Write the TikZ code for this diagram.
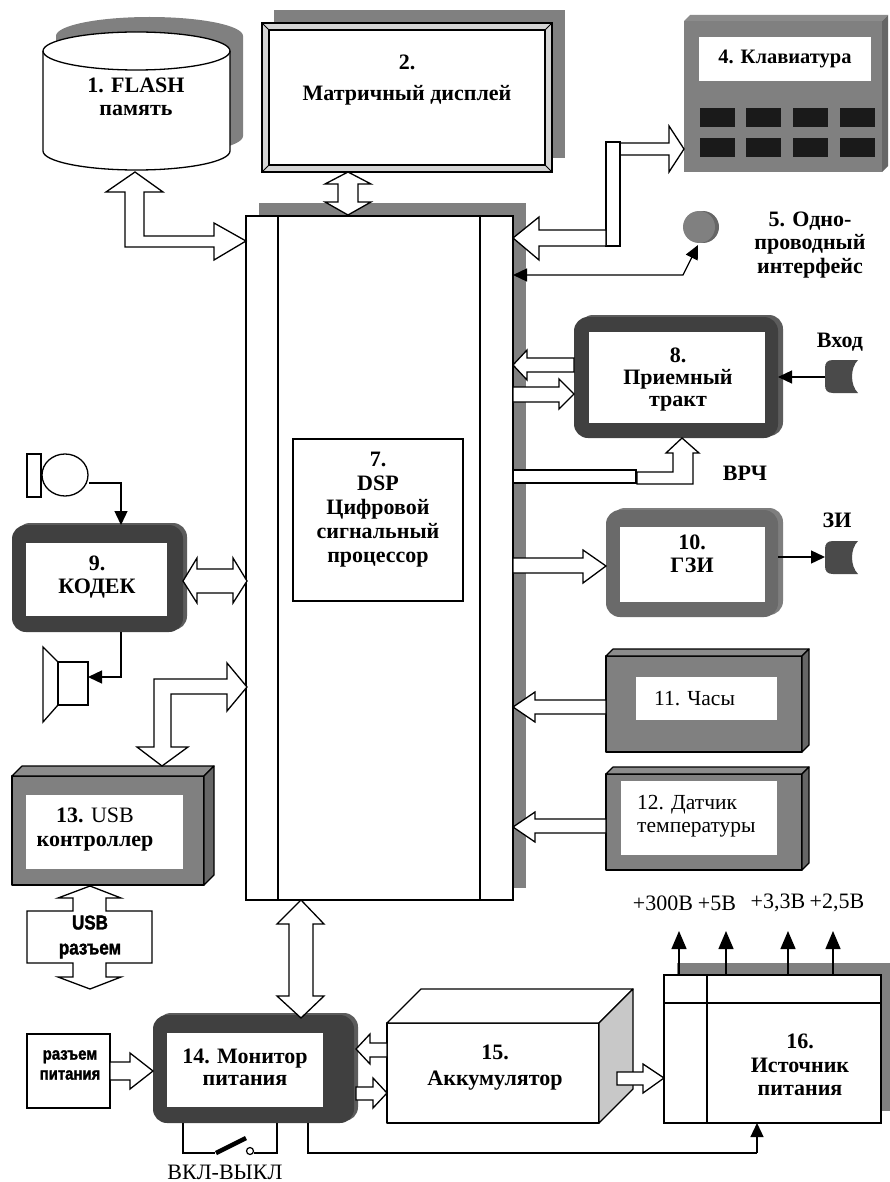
\documentclass[tikz,border=0pt]{standalone}
\usepackage{fontspec}
\setmainfont{Liberation Serif}
\newfontfamily\heavy{Liberation Sans}[FakeBold=1.6,FakeStretch=0.85]
\usetikzlibrary{arrows.meta}
\definecolor{shd}{HTML}{808080}
\definecolor{darkbox}{HTML}{404040}
\definecolor{darkedge}{HTML}{5C5C5C}
\definecolor{midbox}{HTML}{6A6A6A}
\definecolor{midedge}{HTML}{7E7E7E}
\definecolor{bevel}{HTML}{D4D4D4}
\definecolor{sideface}{HTML}{C8C8C8}
\definecolor{darkside}{HTML}{666666}
\definecolor{topface}{HTML}{8C8C8C}
\definecolor{keyblk}{HTML}{1A1A1A}
\definecolor{jackc}{HTML}{4A4A4A}
\newcommand\tdbox[5]{%
  \filldraw[fill=shd,draw=black,line width=1.2pt,line join=round] (#1,#2) rectangle (#3,#4);
  \filldraw[fill=topface,draw=black,line width=1.2pt,line join=round] (#1,#2) -- (#1+#5,#2-#5) -- (#3+#5,#2-#5) -- (#3,#2) -- cycle;
  \filldraw[fill=darkside,draw=black,line width=1.2pt,line join=round] (#3,#2) -- (#3+#5,#2-#5) -- (#3+#5,#4-#5) -- (#3,#4) -- cycle;
}
\begin{document}
\begin{tikzpicture}[x=1pt,y=-1pt,
  ln/.style={line width=1.3pt},
  barrow/.style={draw=black,fill=white,line width=1.3pt,line join=miter},
  lab/.style={font=\fontsize{22}{23.5}\selectfont\bfseries,align=center,inner sep=0pt},
  labn/.style={font=\fontsize{21.5}{23.5}\selectfont,align=center,inner sep=0pt},
  labh/.style={font=\heavy\fontsize{20}{25}\selectfont\bfseries,align=center,inner sep=0pt},
  arr/.style={line width=1.3pt,-{Triangle[length=14pt,width=13pt]}},
  darr/.style={line width=1.3pt,{Triangle[length=14pt,width=13pt]}-{Triangle[length=14pt,width=13pt]}}]
\useasboundingbox (0,0) rectangle (890,1182);
\fill[white] (0,0) rectangle (890,1182);

% ---------- 1. FLASH cylinder ----------
\fill[shd] (56,36) -- (56,136) arc[start angle=180,end angle=360,x radius=93.5pt,y radius=19pt] -- (243,36) arc[start angle=0,end angle=180,x radius=93.5pt,y radius=19pt] -- cycle;
\filldraw[fill=white,ln] (43,51) -- (43,151) arc[start angle=180,end angle=360,x radius=93.5pt,y radius=19pt] -- (230,51) arc[start angle=0,end angle=180,x radius=93.5pt,y radius=19pt] -- cycle;
\draw[ln] (43,51) arc[start angle=180,end angle=360,x radius=93.5pt,y radius=19pt];
\node[lab] (t1) at (136,97) {1. FLASH\\память};

% ---------- 2. Display ----------
\fill[shd] (274,10) rectangle (565,158);
\filldraw[fill=bevel,ln] (262,23) rectangle (552,172);
\filldraw[fill=white,ln] (269,30) rectangle (545,165);
\draw[line width=1pt] (262,23) -- (269,30) (552,23) -- (545,30) (262,172) -- (269,165) (552,172) -- (545,165);
\node[lab] (t2) at (407,80) {2.\\[8pt]Матричный дисплей};

% ---------- 7. Bus / DSP ----------
\fill[shd] (259,203) rectangle (526,888);
\filldraw[fill=white,ln] (246,216) rectangle (513,900);
\draw[ln] (278,216) -- (278,900) (480,216) -- (480,900);
\draw[ln] (293,439) rectangle (463,601);
\node[lab,font=\fontsize{22}{24}\selectfont\bfseries] (t7) at (378,510) {7.\\DSP\\Цифровой\\сигнальный\\процессор};

% ---------- 4. Keyboard ----------
\fill[shd] (684,21) rectangle (882,172);
\fill[topface] (684,21) -- (690,15) -- (888,15) -- (882,21) -- cycle;
\fill[darkside] (882,21) -- (888,15) -- (888,166) -- (882,172) -- cycle;
\fill[white] (699,37) rectangle (871,81);
\node[lab,font=\fontsize{20.5}{23.5}\selectfont\bfseries] (t4) at (785,59) {4. Клавиатура};
\foreach \kx in {700,746,793,840}{
  \fill[keyblk] (\kx,108) rectangle +(35,19);
  \fill[keyblk] (\kx,138) rectangle +(35,19);
}

% ---------- 5. One-wire ----------
\fill[darkside] (703,227) circle[radius=16pt];
\fill[shd] (699,227) circle[radius=16pt];
\node[lab] (t5) at (810,245) {5. Одно-\\проводный\\интерфейс};

% ---------- 8. Receiver ----------
\fill[darkedge,rounded corners=14pt] (579,315) rectangle (783,436);
\fill[darkbox,rounded corners=14pt] (574,317) rectangle (778,438);
\fill[white] (589,332) rectangle (765,423);
\node[lab,font=\fontsize{22}{22}\selectfont\bfseries] (t8) at (678,380) {8.\\Приемный\\тракт};

% ---------- 10. GZI ----------
\fill[midedge,rounded corners=14pt] (611,508) rectangle (783,615);
\fill[midbox,rounded corners=14pt] (606,510) rectangle (778,617);
\fill[white] (620,527) rectangle (765,602);
\node[lab] (t10) at (692,554) {10.\\ГЗИ};

% ---------- jacks ----------
\foreach \jy in {360,541}{
  \fill[jackc] (858,\jy) -- (833,\jy) .. controls (827,\jy) and (825,\jy+3) .. (825,\jy+8) -- (825,\jy+25) .. controls (825,\jy+30) and (827,\jy+33) .. (833,\jy+33) -- (858,\jy+33) .. controls (850,\jy+25) and (850,\jy+8) .. (858,\jy) -- cycle;
}
\node[lab] (tin) at (840,342) {Вход};
\node[lab] (tzi) at (837,520) {ЗИ};
\node[lab] (tvrch) at (745,473) {ВРЧ};

% ---------- 11, 12 ----------
\tdbox{606}{656}{802}{752}{7}
\fill[white] (636,677) rectangle (777,720);
\node[labn,anchor=west] (t11) at (654,699) {11. Часы};
\tdbox{606}{774}{802}{870}{7}
\fill[white] (621,781) rectangle (777,855);
\node[labn,anchor=west,align=left] (t12) at (637,816) {12. Датчик\\температуры};

% ---------- 9. Codec ----------
\fill[darkedge,rounded corners=14pt] (16,523) rectangle (187,630);
\fill[darkbox,rounded corners=14pt] (12,525) rectangle (183,632);
\fill[white] (26,543) rectangle (167,616);
\node[lab] (t9) at (97,577) {9.\\КОДЕК};
% microphone
\draw[ln] (27,454) rectangle (41,497);
\draw[ln] (65,475) ellipse[x radius=23pt,y radius=21pt];
\coordinate (mic) at (89,483);
\coordinate (cdtop) at (121,525);
\draw[arr] (mic) -| (cdtop);
% speaker
\draw[ln] (58,662) rectangle (88,705);
\draw[ln,line join=miter] (58,662) -- (43,647) -- (43,722) -- (58,705);
\coordinate (cdbot) at (121,632);
\coordinate (spk) at (88,677);
\draw[arr] (cdbot) |- (spk);

% ---------- 13. USB controller ----------
\tdbox{12}{776}{204}{885}{10}
\fill[white] (26,795) rectangle (183,869);
\node[labn,font=\fontsize{22}{24}\selectfont] (t13) at (95,830) {\textbf{13.} USB\\\textbf{контроллер}};

% ---------- USB connector ----------
\filldraw[barrow] (90,886) -- (121,898) -- (106,898) -- (106,911) -- (152,911) -- (152,963) -- (106,963) -- (106,977) -- (121,977) -- (90,989) -- (58,977) -- (73,977) -- (73,963) -- (27,963) -- (27,911) -- (73,911) -- (73,898) -- (58,898) -- cycle;
\node[labh] (tusb) at (90,937) {USB\\разъем};

% ---------- 14. Monitor ----------
\fill[darkedge,rounded corners=14pt] (157,1013) rectangle (358,1121);
\fill[darkbox,rounded corners=14pt] (153,1015) rectangle (354,1123);
\fill[white] (167,1033) rectangle (323,1107);
\node[lab,font=\fontsize{22}{22}\selectfont\bfseries] (t14) at (245,1067) {14. Монитор\\питания};

% power connector
\draw[ln] (27,1034) rectangle (110,1108);
\node[labh,font=\heavy\fontsize{17.5}{20}\selectfont\bfseries] (tpw) at (70,1065) {разъем\\питания};

% ---------- 15. Accumulator ----------
\filldraw[fill=white,ln,line join=round] (387,1023) rectangle (599,1123);
\filldraw[fill=white,ln,line join=round] (387,1023) -- (421,989) -- (633,989) -- (599,1023) -- cycle;
\filldraw[fill=sideface,ln,line join=round] (599,1023) -- (633,989) -- (633,1089) -- (599,1123) -- cycle;
\node[lab,font=\fontsize{22}{26}\selectfont\bfseries] (t15) at (495,1068) {15.\\Аккумулятор};

% ---------- 16. Power source ----------
\fill[shd] (677,963) rectangle (890,1111);
\filldraw[fill=white,ln] (664,975) rectangle (881,1123);
\draw[ln] (707,975) -- (707,1123) (664,1003) -- (881,1003);
\node[lab] (t16) at (800,1065) {16.\\Источник\\питания};
\foreach \ox in {679,726,788,833}{
  \draw[arr,-{Triangle[length=18pt,width=15pt]}] (\ox,975) -- (\ox,931);
}
\node[labn,font=\fontsize{22}{24}\selectfont] (v1) at (663,903) {+300В};
\node[labn,font=\fontsize{22}{24}\selectfont] (v2) at (717,903) {+5В};
\node[labn,font=\fontsize{22}{24}\selectfont] (v3) at (778,903) {+3,3В};
\node[labn,font=\fontsize{22}{24}\selectfont] (v4) at (837,903) {+2,5В};

% ---------- block arrows ----------
% flash <-> bus
\filldraw[barrow] (135,172) -- (163,192) -- (144,192) -- (144,236) -- (214,236) -- (214,223) -- (246,241) -- (214,260) -- (214,247) -- (125,247) -- (125,192) -- (106,192) -- cycle;
% display <-> bus
\filldraw[barrow] (348,172) -- (371,184) -- (358,184) -- (358,202) -- (371,202) -- (348,215) -- (325,202) -- (338,202) -- (338,184) -- (325,184) -- cycle;
% keyboard <-> bus
\filldraw[barrow] (620,143) -- (669,143) -- (669,126) -- (684,149) -- (669,172) -- (669,155) -- (620,155) -- cycle;
\filldraw[barrow] (606,142) rectangle (620,246);
\filldraw[barrow] (606,230) -- (539,230) -- (539,217) -- (513,238) -- (539,260) -- (539,246) -- (606,246) -- cycle;
% one-wire
\coordinate (ow1) at (698,245);
\coordinate (ow2) at (683,275);
\coordinate (ow3) at (513,275);
\draw[darr] (ow1) -- (ow2) -- (ow3);
% receiver
\filldraw[barrow] (574,358) -- (527,358) -- (527,350) -- (513,365) -- (527,380) -- (527,372) -- (574,372) -- cycle;
\filldraw[barrow] (513,387) -- (559,387) -- (559,379) -- (574,394) -- (559,409) -- (559,402) -- (513,402) -- cycle;
\draw[arr] (825,377) -- (778,377);
% VRCh
\filldraw[barrow] (513,470) rectangle (636,483);
\filldraw[barrow] (637,472) -- (673,472) -- (673,453) -- (666,453) -- (682,438) -- (699,453) -- (693,453) -- (693,484) -- (637,484) -- cycle;
% GZI
\filldraw[barrow] (513,558) -- (583,558) -- (583,550) -- (606,566) -- (583,583) -- (583,573) -- (513,573) -- cycle;
\draw[arr] (778,557) -- (825,557);
% clock, temp
\filldraw[barrow] (606,700) -- (535,700) -- (535,692) -- (513,707) -- (535,722) -- (535,714) -- (606,714) -- cycle;
\filldraw[barrow] (606,819) -- (535,819) -- (535,812) -- (513,827) -- (535,842) -- (535,833) -- (606,833) -- cycle;
% codec <-> bus
\filldraw[barrow] (183,581) -- (197,558) -- (197,569) -- (233,569) -- (233,558) -- (247,581) -- (233,603) -- (233,593) -- (197,593) -- (197,603) -- cycle;
% USB <-> bus
\filldraw[barrow] (247,687) -- (227,663) -- (227,679) -- (154,679) -- (154,747) -- (137,747) -- (162,766) -- (188,747) -- (171,747) -- (171,694) -- (227,694) -- (227,711) -- cycle;
% bus <-> monitor
\filldraw[barrow] (301,900) -- (324,924) -- (313,924) -- (313,996) -- (324,996) -- (301,1018) -- (277,996) -- (289,996) -- (289,924) -- (277,924) -- cycle;
% power connector -> monitor
\filldraw[barrow] (110,1062) -- (130,1062) -- (130,1053) -- (153,1071) -- (130,1089) -- (130,1080) -- (110,1080) -- cycle;
% accumulator <-> monitor
\filldraw[barrow] (387,1043) -- (370,1043) -- (370,1034) -- (356,1049) -- (370,1064) -- (370,1057) -- (387,1057) -- cycle;
\filldraw[barrow] (356,1087) -- (373,1087) -- (373,1078) -- (387,1093) -- (373,1108) -- (373,1100) -- (356,1100) -- cycle;
% accumulator -> source
\filldraw[barrow] (617,1072) -- (643,1072) -- (643,1064) -- (664,1078) -- (643,1093) -- (643,1085) -- (617,1085) -- cycle;

% ---------- switch and control line ----------
\coordinate (sw1) at (183,1123);
\coordinate (sw2) at (277,1123);
\draw[ln] (sw1) |- (215,1153);
\draw[line width=4.5pt] (216,1153) -- (246,1138);
\draw[line width=1.2pt] (250,1151) circle[radius=3.5pt];
\draw[ln] (254,1153) -| (sw2);
\node[labn,font=\fontsize{22}{24}\selectfont] (tsw) at (225,1172) {ВКЛ-ВЫКЛ};
\coordinate (mon) at (308,1123);
\coordinate (src) at (757,1123);
\draw[ln] (mon) |- (757,1153);
\draw[arr] (757,1153) -- (src);
\end{tikzpicture}
\end{document}
